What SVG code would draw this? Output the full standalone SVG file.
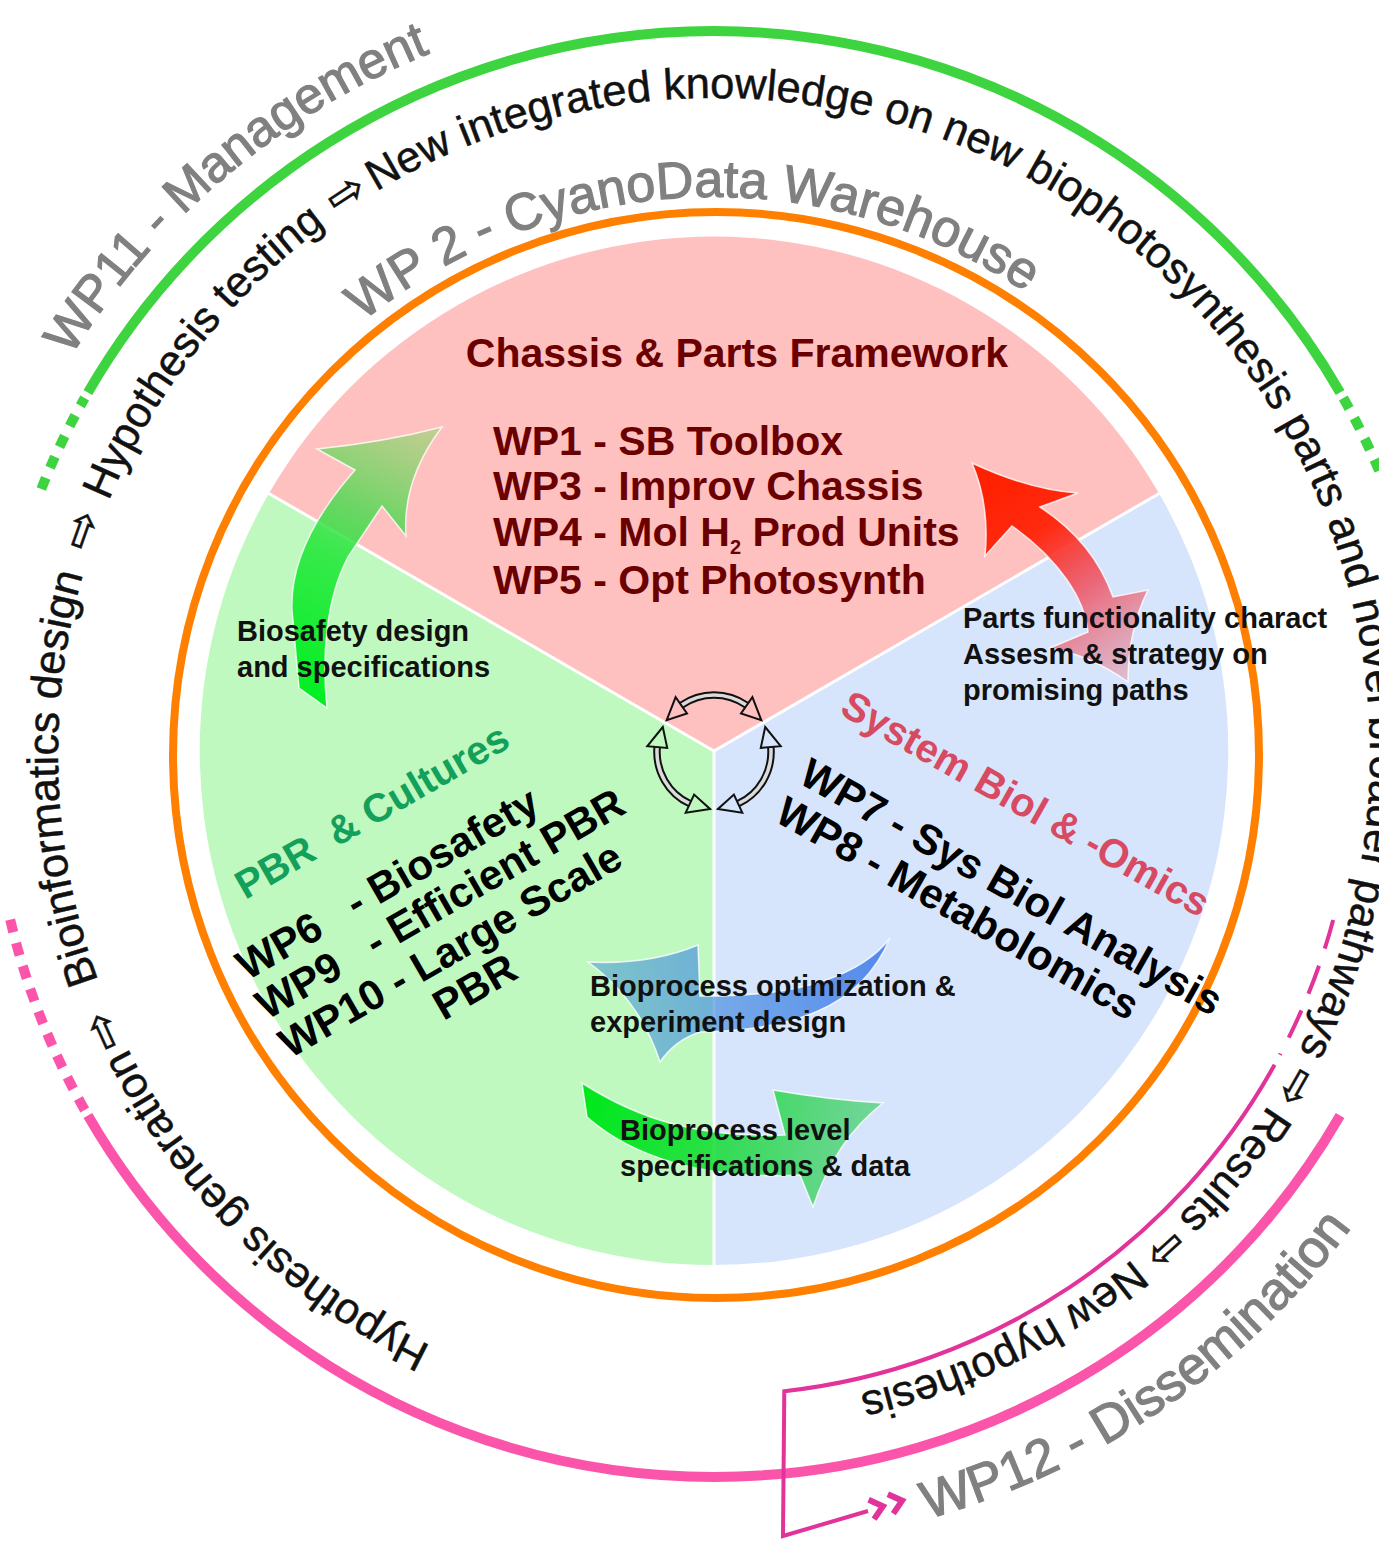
<svg xmlns="http://www.w3.org/2000/svg" width="1379" height="1558" viewBox="0 0 1379 1558">
  <style>
    .ring { font-family: "Liberation Sans", Arial, sans-serif; font-size: 43.5px; fill: #111; stroke: #111; stroke-width: 0.5; text-anchor: middle; }
    .rarr { font-family: "DejaVu Sans", sans-serif; font-size: 46px; fill: #111; stroke: #111; stroke-width: 0.5; text-anchor: middle; }
    .wp { font-family: "Liberation Sans", Arial, sans-serif; fill: #808080; stroke: #808080; stroke-width: 1.2; text-anchor: middle; }
    .maroon { font-family: "Liberation Sans", Arial, sans-serif; font-weight: bold; font-size: 41px; fill: #6b0000; }
    .bk { font-family: "Liberation Sans", Arial, sans-serif; font-weight: bold; font-size: 42px; fill: #000; }
    .note { font-family: "Liberation Sans", Arial, sans-serif; font-weight: bold; font-size: 29px; fill: #111; }
    .dash-green { fill: none; stroke: #3dd43f; stroke-width: 10; }
    .dash-pink { fill: none; stroke: #fb55ab; stroke-width: 10; }
    .thin-pink { fill: none; stroke: #e2339b; stroke-width: 4; }
    .cyc-body { fill: none; stroke: #111; stroke-width: 7.5; }
    .cyc-core { fill: none; stroke: #fff; stroke-width: 3.5; stroke-opacity: 0.85; }
    .cyc-head { fill: none; stroke: #111; stroke-width: 2; stroke-linejoin: miter; }
    .blk { stroke: #fff; stroke-width: 1.5; stroke-opacity: 0.8; }
  </style>
  <defs>
    <path id="ring" d="M 714 1410 A 656 656 0 1 1 714 98 A 656 656 0 1 1 714 1410"/>
    <path id="arc-wp11" d="M -30.2 887.2 A 756 756 0 0 1 970.7 42.9"/>
    <path id="arc-wp2" d="M 219.9 496.8 A 557 557 0 0 1 1183.8 454.7"/>
    <path id="arc-wp12" d="M 372.2 1470.7 A 794 794 0 0 0 1505.6 691.7"/>
    <linearGradient id="g-green" gradientUnits="userSpaceOnUse" x1="312" y1="700" x2="440" y2="430">
      <stop offset="0" stop-color="#00f020" stop-opacity="1"/>
      <stop offset="0.45" stop-color="#25e83c" stop-opacity="0.9"/>
      <stop offset="0.65" stop-color="#3cdc46" stop-opacity="0.75"/>
      <stop offset="1" stop-color="#78dc5a" stop-opacity="0.45"/>
    </linearGradient>
    <linearGradient id="g-red" gradientUnits="userSpaceOnUse" x1="985" y1="480" x2="1125" y2="680">
      <stop offset="0" stop-color="#ff2000" stop-opacity="1"/>
      <stop offset="0.3" stop-color="#ff2a10" stop-opacity="1"/>
      <stop offset="0.6" stop-color="#f04858" stop-opacity="0.8"/>
      <stop offset="1" stop-color="#e87080" stop-opacity="0.35"/>
    </linearGradient>
    <linearGradient id="g-blue" gradientUnits="userSpaceOnUse" x1="600" y1="1000" x2="890" y2="970">
      <stop offset="0" stop-color="#50a0d2" stop-opacity="0.6"/>
      <stop offset="0.4" stop-color="#4c90e0" stop-opacity="0.7"/>
      <stop offset="1" stop-color="#3c78eb" stop-opacity="0.85"/>
    </linearGradient>
    <linearGradient id="g-lvl" gradientUnits="userSpaceOnUse" x1="585" y1="1100" x2="880" y2="1150">
      <stop offset="0" stop-color="#00e81c" stop-opacity="1"/>
      <stop offset="0.45" stop-color="#10dc30" stop-opacity="0.85"/>
      <stop offset="1" stop-color="#28c850" stop-opacity="0.55"/>
    </linearGradient>
  </defs>

  <rect width="1379" height="1558" fill="#fff"/>

  <!-- inner disk: three sectors -->
  <g id="sector-chassis">
    <path d="M 714 751 L 268.9 493.5 A 514 514 0 0 1 1159.1 493.5 Z" fill="#ffc0c0"/>
  </g>
  <g id="sector-sysbiol">
    <path d="M 714 751 L 1159.1 493.5 A 514 514 0 0 1 714 1265 Z" fill="#d6e5fc"/>
  </g>
  <g id="sector-pbr">
    <path d="M 714 751 L 714 1265 A 514 514 0 0 1 268.9 493.5 Z" fill="#bff9c0"/>
  </g>
  <g id="sector-borders" stroke="#fff" stroke-width="3">
    <line x1="714" y1="751" x2="268.9" y2="493.5"/>
    <line x1="714" y1="751" x2="1159.1" y2="493.5"/>
    <line x1="714" y1="751" x2="714" y2="1265"/>
  </g>

  <!-- WP2 data warehouse ring -->
  <g id="wp2-ring">
    <circle cx="716" cy="755" r="543" fill="none" stroke="#ff8000" stroke-width="8"/>
    <text class="wp" font-size="52"><textPath href="#arc-wp2" startOffset="50%">WP 2 - CyanoData Warehouse</textPath></text>
  </g>

  <!-- WP11 management arc -->
  <g id="wp11-arc">
    <path d="M 87.9 392.5 A 723 723 0 0 1 1340.1 392.5" fill="none" stroke="#3dd43f" stroke-width="10"/>
    <path class="dash-green" d="M 41.3 489 A 723 723 0 0 1 84.7 398" stroke-dasharray="12 11"/>
    <path class="dash-green" d="M 1343.3 398 A 723 723 0 0 1 1397.6 518.6" stroke-dasharray="12 11"/>
    <text class="wp" font-size="51"><textPath href="#arc-wp11" startOffset="50%">WP11 - Management</textPath></text>
  </g>

  <!-- WP12 dissemination arc -->
  <g id="wp12-arc">
    <path d="M 1340.1 1115.5 A 723 723 0 0 1 87.9 1115.5" fill="none" stroke="#fb55ab" stroke-width="10"/>
    <path class="dash-pink" d="M 84.7 1110 A 723 723 0 0 1 8.1 910.5" stroke-dasharray="13 11"/>
    <text class="wp" font-size="53"><textPath href="#arc-wp12" startOffset="50%">WP12 - Dissemination</textPath></text>
  </g>

  <!-- hypothesis loop feeding dissemination -->
  <g id="connectors">
    <path class="thin-pink" d="M 1333.2 919.9 A 641 641 0 0 1 1279.9 1054.9" stroke-dasharray="30 18"/>
    <path class="thin-pink" d="M 1274.6 1064.8 A 641 641 0 0 1 784.3 1391.2 L 783 1536 L 868 1511"/>
    <g transform="translate(880 1507) rotate(-16)" fill="none" stroke="#e2339b" stroke-width="6">
      <path d="M -9 -10 L 3 0 L -9 10"/>
      <path d="M 11 -10 L 23 0 L 11 10"/>
    </g>
  </g>

  <!-- research cycle text -->
  <g id="cycle-text">
    <text class="ring"><textPath href="#ring" startOffset="12.35%">Hypothesis generation</textPath></text>
    <text class="rarr"><textPath href="#ring" startOffset="18.22%">⇨</textPath></text>
    <text class="ring"><textPath href="#ring" startOffset="24.40%">Bioinformatics design</textPath></text>
    <text class="rarr"><textPath href="#ring" startOffset="30.42%">⇨</textPath></text>
    <text class="ring"><textPath href="#ring" startOffset="35.61%">Hypothesis testing</textPath></text>
    <text class="rarr"><textPath href="#ring" startOffset="40.75%">⇨</textPath></text>
    <text class="ring"><textPath href="#ring" startOffset="61.94%">New integrated knowledge on new biophotosynthesis parts and novel broader pathways</textPath></text>
    <text class="rarr"><textPath href="#ring" startOffset="83.28%">⇨</textPath></text>
    <text class="ring"><textPath href="#ring" startOffset="85.74%">Results</textPath></text>
    <text class="rarr"><textPath href="#ring" startOffset="88.25%">⇨</textPath></text>
    <text class="ring"><textPath href="#ring" startOffset="92.71%">New hypothesis</textPath></text>
  </g>

  <!-- exchange arrows between sectors -->
  <g id="arrow-biosafety">
    <path class="blk" fill="url(#g-green)" d="M 442 427 Q 385 442 317 449 L 355 470 C 318 512 290 560 292 610 L 299 688 L 327 708 C 322 660 325 600 348 557 L 382 506 L 406 536 Q 402 480 442 427 Z"/>
  </g>
  <g id="arrow-parts">
    <path class="blk" fill="url(#g-red)" d="M 972 463 Q 1030 490 1078 493 L 1040 507 C 1075 530 1100 560 1113 597 L 1148 590 Q 1128 630 1128 682 Q 1090 655 1050 648 L 1088 632 C 1085 600 1060 560 1012 526 L 985 556 Q 990 505 972 463 Z"/>
  </g>
  <g id="arrow-bioprocess-opt">
    <path class="blk" fill="url(#g-blue)" d="M 890 938 C 862 975 800 995 720 996 L 700 996 L 698 945 Q 650 965 588 962 Q 640 1000 660 1062 Q 675 1040 700 1032 C 790 1030 860 1010 890 938 Z"/>
  </g>
  <g id="arrow-bioprocess-level">
    <path class="blk" fill="url(#g-lvl)" d="M 582 1083 C 640 1120 700 1138 785 1135 L 773 1090 Q 830 1100 883 1103 Q 835 1140 813 1207 L 800 1175 C 700 1180 630 1155 587 1117 Z"/>
  </g>

  <!-- Chassis & Parts Framework -->
  <g id="node-chassis">
    <text class="maroon" x="737" y="367" text-anchor="middle">Chassis &amp; Parts Framework</text>
    <text class="maroon" x="493" y="455">WP1 - SB Toolbox</text>
    <text class="maroon" x="493" y="500">WP3 - Improv Chassis</text>
    <text class="maroon" x="493" y="546">WP4 - Mol H<tspan font-size="20" dy="8">2</tspan><tspan dy="-8"> Prod Units</tspan></text>
    <text class="maroon" x="493" y="594">WP5 - Opt Photosynth</text>
  </g>

  <!-- PBR & Cultures -->
  <g id="node-pbr" transform="translate(247 981) rotate(-30)">
    <text font-family="Liberation Sans, Arial, sans-serif" font-weight="bold" font-size="40" fill="#12a05a"><tspan x="39" y="-71">PBR</tspan><tspan x="145" y="-71">&amp; Cultures</tspan></text>
    <text class="bk"><tspan x="0" y="0">WP6</tspan><tspan x="126" y="0">- Biosafety</tspan></text>
    <text class="bk"><tspan x="-3" y="44">WP9</tspan><tspan x="123" y="44">- Efficient PBR</tspan></text>
    <text class="bk" x="-2" y="89">WP10 - Large Scale</text>
    <text class="bk" x="150" y="133">PBR</text>
  </g>

  <!-- System Biol & -Omics -->
  <g id="node-sysbiol" transform="translate(797 782) rotate(29.5)">
    <text font-family="Liberation Sans, Arial, sans-serif" font-weight="bold" font-size="40" fill="#d84a62" x="2" y="-80">System Biol &amp; -Omics</text>
    <text class="bk" font-size="41" x="0" y="0">WP7 - Sys Biol Analysis</text>
    <text class="bk" font-size="41" x="-2" y="45">WP8 - Metabolomics</text>
  </g>

  <!-- arrow captions -->
  <g id="captions">
    <text class="note" x="237" y="641">Biosafety design</text>
    <text class="note" x="237" y="677">and specifications</text>
    <text class="note" x="963" y="628">Parts functionality charact</text>
    <text class="note" x="963" y="664">Assesm &amp; strategy on</text>
    <text class="note" x="963" y="700">promising paths</text>
    <text class="note" x="590" y="996">Bioprocess optimization &amp;</text>
    <text class="note" x="590" y="1032">experiment design</text>
    <text class="note" x="620" y="1140">Bioprocess level</text>
    <text class="note" x="620" y="1176">specifications &amp; data</text>
  </g>

  <!-- central interaction cycle -->
  <g id="center-cycle">
    <path class="cyc-body" d="M 681.3 705.3 A 57 57 0 0 1 746.7 705.3"/>
    <path class="cyc-core" d="M 681.3 705.3 A 57 57 0 0 1 746.7 705.3"/>
    <path class="cyc-body" d="M 770.8 747 A 57 57 0 0 1 738.1 803.7"/>
    <path class="cyc-core" d="M 770.8 747 A 57 57 0 0 1 738.1 803.7"/>
    <path class="cyc-body" d="M 689.9 803.7 A 57 57 0 0 1 657.2 747"/>
    <path class="cyc-core" d="M 689.9 803.7 A 57 57 0 0 1 657.2 747"/>
    <path class="cyc-head" d="M 666.7 720.1 L 675.6 697.1 L 687 713.5 Z"/>
    <path class="cyc-head" d="M 761.3 720.1 L 752.4 697.1 L 741 713.5 Z"/>
    <path class="cyc-head" d="M 765.2 727 L 780.7 746.2 L 760.8 747.9 Z"/>
    <path class="cyc-head" d="M 718 808.9 L 742.3 812.7 L 733.9 794.6 Z"/>
    <path class="cyc-head" d="M 710 808.9 L 685.7 812.7 L 694.1 794.6 Z"/>
    <path class="cyc-head" d="M 662.8 727 L 647.3 746.2 L 667.2 747.9 Z"/>
  </g>
</svg>
